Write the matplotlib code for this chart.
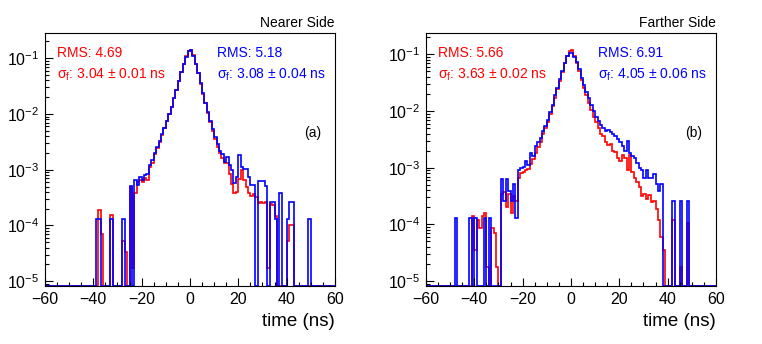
import matplotlib.pyplot as plt
import numpy as np
from matplotlib.ticker import MultipleLocator, LogLocator, NullFormatter

plt.rcParams['font.family'] = 'Liberation Sans'
plt.rcParams['mathtext.fontset'] = 'custom'
plt.rcParams['mathtext.rm'] = 'Liberation Sans'
plt.rcParams['mathtext.it'] = 'Liberation Sans:italic'

# 1 ns bins, edges -50 ... 50 (bins outside are empty)
edges = np.arange(-50, 51, 1)

near_red = [
    0, 0, 0, 0, 0, 0, 0, 0, 0, 0,
    0, 0, 1.9e-4, 6.9e-5, 0, 0, 0, 1.55e-4, 0, 0,
    0, 0, 5.2e-5, 3.4e-5, 0, 4.8e-4, 1.7e-5, 3.8e-4, 6.0e-4, 6.5e-4,
    6.0e-4, 7.0e-4, 6.5e-4, 1.1e-3, 1.3e-3, 1.9e-3, 2.5e-3, 3.2e-3, 4.2e-3, 5.5e-3,
    7.4e-3, 1.0e-2, 1.36e-2, 1.9e-2, 2.75e-2, 3.95e-2, 5.7e-2, 8.0e-2, 1.08e-1, 1.37e-1,
    1.39e-1, 1.13e-1, 8.0e-2, 5.4e-2, 3.5e-2, 2.3e-2, 1.55e-2, 1.05e-2, 7.2e-3, 5.0e-3,
    3.6e-3, 2.6e-3, 2.0e-3, 1.6e-3, 1.3e-3, 1.3e-3, 8.5e-4, 5.5e-4, 3.9e-4, 4.0e-4,
    6.8e-4, 1.0e-3, 6.5e-4, 5.0e-4, 3.8e-4, 3.4e-4, 3.6e-4, 3.2e-4, 2.5e-4, 2.6e-4,
    2.5e-4, 2.6e-4, 1.7e-5, 2.4e-4, 2.3e-4, 1.5e-4, 0, 0, 0, 0,
    5.2e-5, 1.0e-4, 1.0e-4, 0, 0, 0, 0, 0, 0, 0,
]
near_blue = [
    0, 0, 0, 0, 0, 0, 0, 0, 0, 0,
    0, 1.29e-4, 1.29e-4, 0, 0, 0, 0, 1.29e-4, 0, 0,
    0, 0, 1.29e-4, 0, 0, 5.2e-4, 0, 6.6e-4, 5.3e-4, 7.5e-4,
    6.5e-4, 8.0e-4, 8.5e-4, 1.2e-3, 1.5e-3, 2.0e-3, 2.6e-3, 3.3e-3, 4.3e-3, 5.6e-3,
    7.5e-3, 1.0e-2, 1.35e-2, 1.9e-2, 2.7e-2, 3.9e-2, 5.6e-2, 7.9e-2, 1.07e-1, 1.36e-1,
    1.38e-1, 1.12e-1, 8.0e-2, 5.5e-2, 3.6e-2, 2.4e-2, 1.6e-2, 1.1e-2, 7.6e-3, 5.4e-3,
    3.9e-3, 2.9e-3, 2.2e-3, 1.9e-3, 1.4e-3, 1.7e-3, 1.2e-3, 1.0e-3, 5.8e-4, 7.5e-4,
    1.8e-3, 1.1e-3, 1.05e-3, 1.05e-3, 7.5e-4, 5.4e-4, 5.4e-4, 0, 6.4e-4, 6.4e-4,
    6.4e-4, 5.2e-4, 0, 2.6e-4, 2.6e-4, 1.29e-4, 0, 3.9e-4, 0, 0,
    1.29e-4, 2.6e-4, 2.6e-4, 0, 0, 0, 0, 0, 0, 1.29e-4,
]
far_red = [
    0, 0, 0, 0, 0, 0, 0, 0, 0, 1.4e-4,
    3.5e-5, 1.2e-4, 8.8e-5, 1.4e-4, 1.6e-4, 1.75e-5, 0, 8.8e-5, 7.0e-5, 1.75e-5,
    0, 3.4e-4, 3.8e-4, 2.0e-4, 3.4e-4, 1.6e-4, 3.2e-4, 2.6e-4, 6.5e-4, 8.0e-4,
    8.5e-4, 9.0e-4, 9.5e-4, 1.15e-3, 1.4e-3, 1.8e-3, 2.3e-3, 2.9e-3, 4.0e-3, 5.0e-3,
    6.5e-3, 9.0e-3, 1.25e-2, 1.7e-2, 2.4e-2, 3.4e-2, 4.9e-2, 7.0e-2, 9.5e-2, 1.15e-1,
    1.17e-1, 9.4e-2, 7.1e-2, 5.0e-2, 3.5e-2, 2.6e-2, 1.9e-2, 1.4e-2, 1.05e-2, 8.0e-3,
    6.3e-3, 5.0e-3, 3.9e-3, 3.6e-3, 2.9e-3, 2.5e-3, 2.6e-3, 2.0e-3, 1.9e-3, 1.5e-3,
    1.3e-3, 1.7e-3, 1.5e-3, 9.0e-4, 1.7e-3, 8.5e-4, 6.5e-4, 5.5e-4, 4.5e-4, 3.2e-4,
    3.4e-4, 2.8e-4, 3.3e-4, 2.5e-4, 2.6e-4, 1.9e-4, 1.2e-4, 6.0e-5, 3.5e-5, 0,
    0, 0, 1.2e-4, 0, 0, 1.75e-5, 0, 0, 1.05e-4, 0,
]
far_blue = [
    0, 0, 1.29e-4, 0, 0, 0, 0, 0, 1.29e-4, 0,
    1.29e-4, 0, 0, 0, 1.29e-4, 0, 1.29e-4, 0, 0, 0,
    0, 6.4e-4, 2.6e-4, 6.4e-4, 3.9e-4, 2.6e-4, 5.2e-4, 1.29e-4, 9.0e-4, 1.0e-3,
    1.05e-3, 1.3e-3, 1.1e-3, 1.8e-3, 1.6e-3, 2.4e-3, 2.9e-3, 3.3e-3, 4.5e-3, 5.5e-3,
    7.0e-3, 9.5e-3, 1.3e-2, 1.9e-2, 2.6e-2, 3.6e-2, 5.0e-2, 7.0e-2, 9.3e-2, 1.07e-1,
    1.05e-1, 9.0e-2, 7.3e-2, 5.5e-2, 3.9e-2, 2.9e-2, 2.2e-2, 1.7e-2, 1.3e-2, 1.0e-2,
    8.0e-3, 6.8e-3, 5.6e-3, 5.0e-3, 4.5e-3, 4.7e-3, 4.2e-3, 3.9e-3, 3.6e-3, 3.2e-3,
    2.8e-3, 2.4e-3, 2.0e-3, 3.0e-3, 1.8e-3, 1.6e-3, 1.5e-3, 1.2e-3, 1.0e-3, 9.0e-4,
    6.5e-4, 9.0e-4, 6.5e-4, 6.5e-4, 7.7e-4, 5.2e-4, 3.9e-4, 5.2e-4, 0, 0,
    0, 0, 2.6e-4, 0, 0, 2.6e-4, 0, 0, 2.6e-4, 0,
]

panels = [
    dict(left=0.059, red=near_red, blue=near_blue, ytop=0.284, title='Nearer Side', tag='(a)',
         red_txt=('RMS: 4.69', '3.04 ± 0.01 ns'), blue_txt=('RMS: 5.18', '3.08 ± 0.04 ns')),
    dict(left=0.559, red=far_red, blue=far_blue, ytop=0.238, title='Farther Side', tag='(b)',
         red_txt=('RMS: 5.66', '3.63 ± 0.02 ns'), blue_txt=('RMS: 6.91', '4.05 ± 0.06 ns')),
]

ybot = 8.2e-6
full_edges = np.arange(-60, 61, 1)

fig = plt.figure(figsize=(7.62, 3.44), dpi=100)

for p in panels:
    ax = fig.add_axes([p['left'], 0.1686, 0.3806, 0.7355])
    ax.set_yscale('log')
    for vals, col in [(p['red'], '#ff0000'), (p['blue'], '#0000ff')]:
        v = np.pad(np.array(vals, dtype=float), 10)
        v = np.where(v > 0, v, ybot)
        ax.stairs(v, full_edges, baseline=None, color=col, lw=1.2)
    ax.set_xlim(-60, 60)
    ax.set_ylim(ybot, p['ytop'])
    ax.xaxis.set_major_locator(MultipleLocator(20))
    ax.xaxis.set_minor_locator(MultipleLocator(5))
    ax.yaxis.set_major_locator(LogLocator(base=10, numticks=10))
    ax.yaxis.set_minor_locator(LogLocator(base=10, subs=np.arange(2, 10), numticks=20))
    ax.yaxis.set_minor_formatter(NullFormatter())
    ax.tick_params(which='both', direction='in', top=False, right=False, labelsize=11.5)
    ax.tick_params(which='major', length=6, width=0.8)
    ax.tick_params(which='minor', length=3, width=0.8)
    ax.tick_params(axis='x', pad=4)
    ax.tick_params(axis='y', pad=4)
    for s in ax.spines.values():
        s.set_linewidth(0.8)

    ax.text(1.0, 1.012, p['title'], transform=ax.transAxes, ha='right', va='bottom', fontsize=10)
    ax.text(0.924, 0.605, p['tag'], transform=ax.transAxes, ha='center', va='center', fontsize=10)
    ax.text(0.041, 0.921, p['red_txt'][0], transform=ax.transAxes, color='#ff0000',
            va='center', fontsize=10)
    ax.text(0.041, 0.834, 'σ$_\\mathrm{f}$: ' + p['red_txt'][1], transform=ax.transAxes,
            color='#ff0000', va='center', fontsize=10)
    ax.text(0.593, 0.921, p['blue_txt'][0], transform=ax.transAxes, color='#0000ff',
            va='center', fontsize=10)
    ax.text(0.593, 0.834, 'σ$_\\mathrm{f}$: ' + p['blue_txt'][1], transform=ax.transAxes,
            color='#0000ff', va='center', fontsize=10)
    ax.set_xlabel('time (ns)', fontsize=13.5, loc='right')
    ax.xaxis.set_label_coords(1.0, -0.105)

fig.savefig('out.png', dpi=100)
